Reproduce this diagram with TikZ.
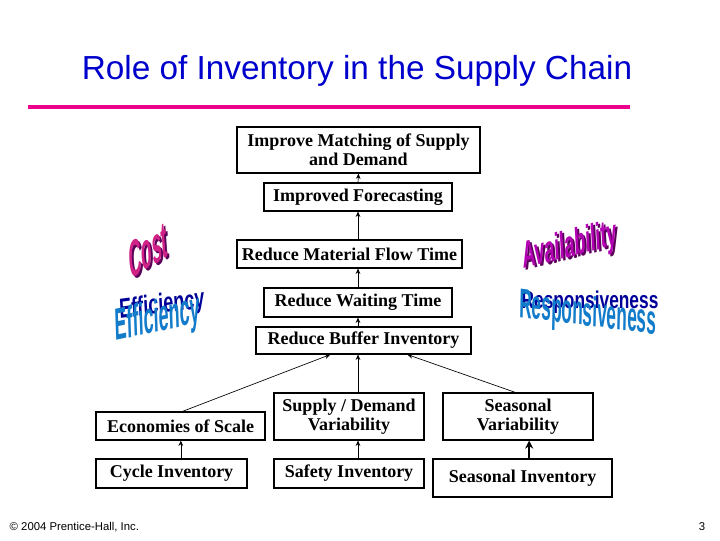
\documentclass[tikz,border=0pt]{standalone}
\usepackage{fontspec}
\setmainfont{Liberation Serif}
\newfontfamily\arial{Liberation Sans}
\usetikzlibrary{arrows.meta}
\begin{document}
\begin{tikzpicture}[x=0.75pt,y=-0.75pt,
  bx/.style={draw,line width=0.9pt,font=\bfseries\fontsize{13.5}{14.5}\selectfont,align=center,inner sep=0pt},
  ar/.style={-{Stealth[length=4pt,width=3.5pt]},line width=0.5pt},
  wa/.style={font=\arial\bfseries\fontsize{26}{26}\selectfont,inner sep=0pt}]
\useasboundingbox (0,0) rectangle (720,540);
\node[font=\arial\fontsize{25}{27}\selectfont,text=blue!80!black] (title) at (357,71) {Role of Inventory in the Supply Chain};
\draw[line width=3pt,draw=magenta] (28,107) coordinate (l1) -- (630,107) coordinate (l2);
\tikzset{mk/.style 2 args={bx,minimum width=#1*0.75pt,minimum height=#2*0.75pt}}
\node[mk={243}{46}] (top) at (358.5,150) {Improve Matching of Supply\\and Demand};
\node[mk={188}{28}] (fc) at (358,197) {Improved Forecasting};
\node[mk={225}{28}] (mf) at (349.5,254) {Reduce Material Flow Time};
\node[mk={188}{29}] (wt) at (358,302.5) {Reduce Waiting Time};
\node[mk={215}{27}] (bi) at (363.5,340.5) {Reduce Buffer Inventory};
\node[mk={169}{28}] (es) at (180.5,426) {Economies of Scale};
\node[mk={150}{47}] (sd) at (349,416.5) {Supply / Demand\\Variability};
\node[mk={150}{47}] (sv) at (518,416.5) {Seasonal\\Variability};
\node[mk={151}{29}] (ci) at (171.5,473.5) {Cycle Inventory};
\node[mk={150}{29}] (si) at (349,473.5) {Safety Inventory};
\node[mk={179}{38}] (sea) at (522.5,478) {Seasonal Inventory};
\draw[ar] (fc.north) -- (top.south);
\draw[ar] (mf.north -| fc.north) -- (fc.south);
\draw[ar] (wt.north) -- (mf.south -| wt.north);
\draw[ar] (bi.north -| wt.north) -- (wt.south);
\draw[ar] (sd.north -| wt.north) -- (bi.south -| wt.north);
\draw[ar] ([xshift=1.5pt]es.north) -- ([xshift=-25pt]bi.south);
\draw[ar] ([xshift=-2pt]sv.north) -- ([xshift=33pt]bi.south);
\draw[ar] ([xshift=7pt]ci.north) -- ([xshift=7pt]ci.north |- es.south);
\draw[ar] (si.north -| wt.north) -- (sd.south -| wt.north);
\draw[-{Stealth[length=6pt,width=6pt]},line width=1.2pt] ([xshift=5pt]sea.north) -- ([xshift=5pt]sea.north |- sv.south);
% word art
\node[wa,text=violet!70!black,xscale=0.5,yscale=1.5,rotate=12] at (150,252) {Cost};
\node[wa,text=magenta!70!violet,xscale=0.5,yscale=1.5,rotate=12] (cost) at (148,250) {Cost};
\node[wa,text=violet!70!black,xscale=0.52,yscale=1.1,rotate=7] at (572,249) {Availability};
\node[wa,text=violet!60!magenta,xscale=0.52,yscale=1.1,rotate=7] (av) at (570,247) {Availability};
\node[wa,text=blue!60!black,xscale=0.52,yscale=0.8,rotate=5] at (162,306) {Efficiency};
\node[wa,text=cyan!60!blue,xscale=0.52,yscale=1.3,rotate=5] (ef) at (158,320) {Efficiency};
\node[wa,text=blue!60!black,xscale=0.5,yscale=0.7] at (590,302) {Responsiveness};
\node[wa,text=cyan!60!blue,xscale=0.5,yscale=1.2,rotate=-3] (rs) at (588,315) {Responsiveness};
\node[anchor=west,font=\arial\fontsize{8.5}{9}\selectfont] (cp) at (5,527) {© 2004 Prentice-Hall, Inc.};
\node[anchor=east,font=\arial\fontsize{8.5}{9}\selectfont] (pg) at (710,527) {3};
\end{tikzpicture}
\end{document}
